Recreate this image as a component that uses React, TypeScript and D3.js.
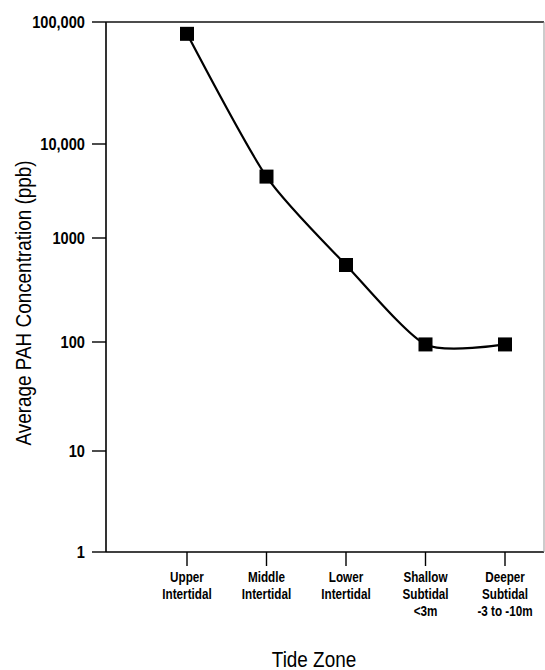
import React, { useRef, useEffect } from "react"
import * as d3 from "d3"

const zones = ["Upper", "Middle", "Lower", "Shallow", "Deeper"]
const zoneLabels = [
  ["Upper", "Intertidal"],
  ["Middle", "Intertidal"],
  ["Lower", "Intertidal"],
  ["Shallow", "Subtidal", "<3m"],
  ["Deeper", "Subtidal", "-3 to -10m"],
]
const pahValues = [80000, 4500, 550, 95, 95]
const yTicks = [1, 10, 100, 1000, 10000, 100000]
const yTickLabels = ["1", "10", "100", "1000", "10,000", "100,000"]

const FONT = "'Liberation Sans', Arial, sans-serif"

const App = () => {
  const ref = useRef<SVGSVGElement>(null)
  const width = 545
  const height = 670

  useEffect(() => {
    if (!ref.current) return
    const svg = d3.select(ref.current)
    svg.selectAll("*").remove()

    const left = 106
    const right = 544
    const top = 22
    const bottom = 552

    // narrow text, squeezed horizontally like the condensed face of the print
    const label = (g, px, py, size, weight, anchor, sx = 0.84, rot = 0) =>
      g.append("text")
        .attr("transform", `translate(${px},${py}) rotate(${rot}) scale(${sx},1)`)
        .attr("text-anchor", anchor)
        .attr("font-family", FONT)
        .attr("font-weight", weight)
        .attr("font-size", size)

    // piecewise log scale, decades spaced as in the original print
    const y = d3
      .scaleLog()
      .domain(yTicks)
      .range([bottom, 451, 342, 238, 144, top])
    const x = d3.scalePoint().domain(zones).range([187, 505])

    // frame
    svg.append("line").attr("x1", left).attr("x2", left).attr("y1", top).attr("y2", bottom)
      .attr("stroke", "#000").attr("stroke-width", 1.6)
    svg.append("line").attr("x1", left).attr("x2", right).attr("y1", top).attr("y2", top)
      .attr("stroke", "#111").attr("stroke-width", 1.6)
    svg.append("line").attr("x1", left).attr("x2", right).attr("y1", bottom).attr("y2", bottom)
      .attr("stroke", "#000").attr("stroke-width", 1.6)
    svg.append("line").attr("x1", right).attr("x2", right).attr("y1", top).attr("y2", bottom)
      .attr("stroke", "#999").attr("stroke-width", 1)

    // y axis
    const yAxis = svg.append("g")
    yTicks.forEach((t, i) => {
      yAxis.append("line").attr("x1", 92).attr("x2", left).attr("y1", y(t)).attr("y2", y(t))
        .attr("stroke", "#000").attr("stroke-width", 1.4)
      label(yAxis, 85, y(t) + 6, 17, "bold", "end", 0.86).text(yTickLabels[i])
    })

    // x axis
    const xAxis = svg.append("g")
    zones.forEach((z, i) => {
      const px = x(z) as number
      xAxis.append("line").attr("x1", px).attr("x2", px).attr("y1", bottom).attr("y2", bottom + 14)
        .attr("stroke", "#000").attr("stroke-width", 1.4)
      zoneLabels[i].forEach((l, j) => {
        label(xAxis, px, bottom + 30 + j * 17, 15, "bold", "middle", 0.78).text(l)
      })
    })

    // titles
    label(svg, 314, 667, 22, "normal", "middle", 0.86).text("Tide Zone")
    label(svg, 31, 303, 22, "normal", "middle", 0.86, -90).text("Average PAH Concentration (ppb)")

    // curve
    const line = d3
      .line<number>()
      .x((d, i) => x(zones[i]) as number)
      .y(d => y(d))
      .curve(d3.curveCardinal.tension(0.3))
    svg.append("path").attr("d", line(pahValues)).attr("fill", "none")
      .attr("stroke", "#000").attr("stroke-width", 2.2)

    // markers
    svg.append("g").selectAll("rect").data(pahValues).enter().append("rect")
      .attr("x", (d, i) => (x(zones[i]) as number) - 7)
      .attr("y", d => y(d) - 7)
      .attr("width", 14).attr("height", 14).attr("fill", "#000")
  }, [])

  return (
    <svg ref={ref} width={width} height={height}
      style={{ position: "absolute", left: 0, top: 0, background: "#fff" }} />
  )
}

export default App
